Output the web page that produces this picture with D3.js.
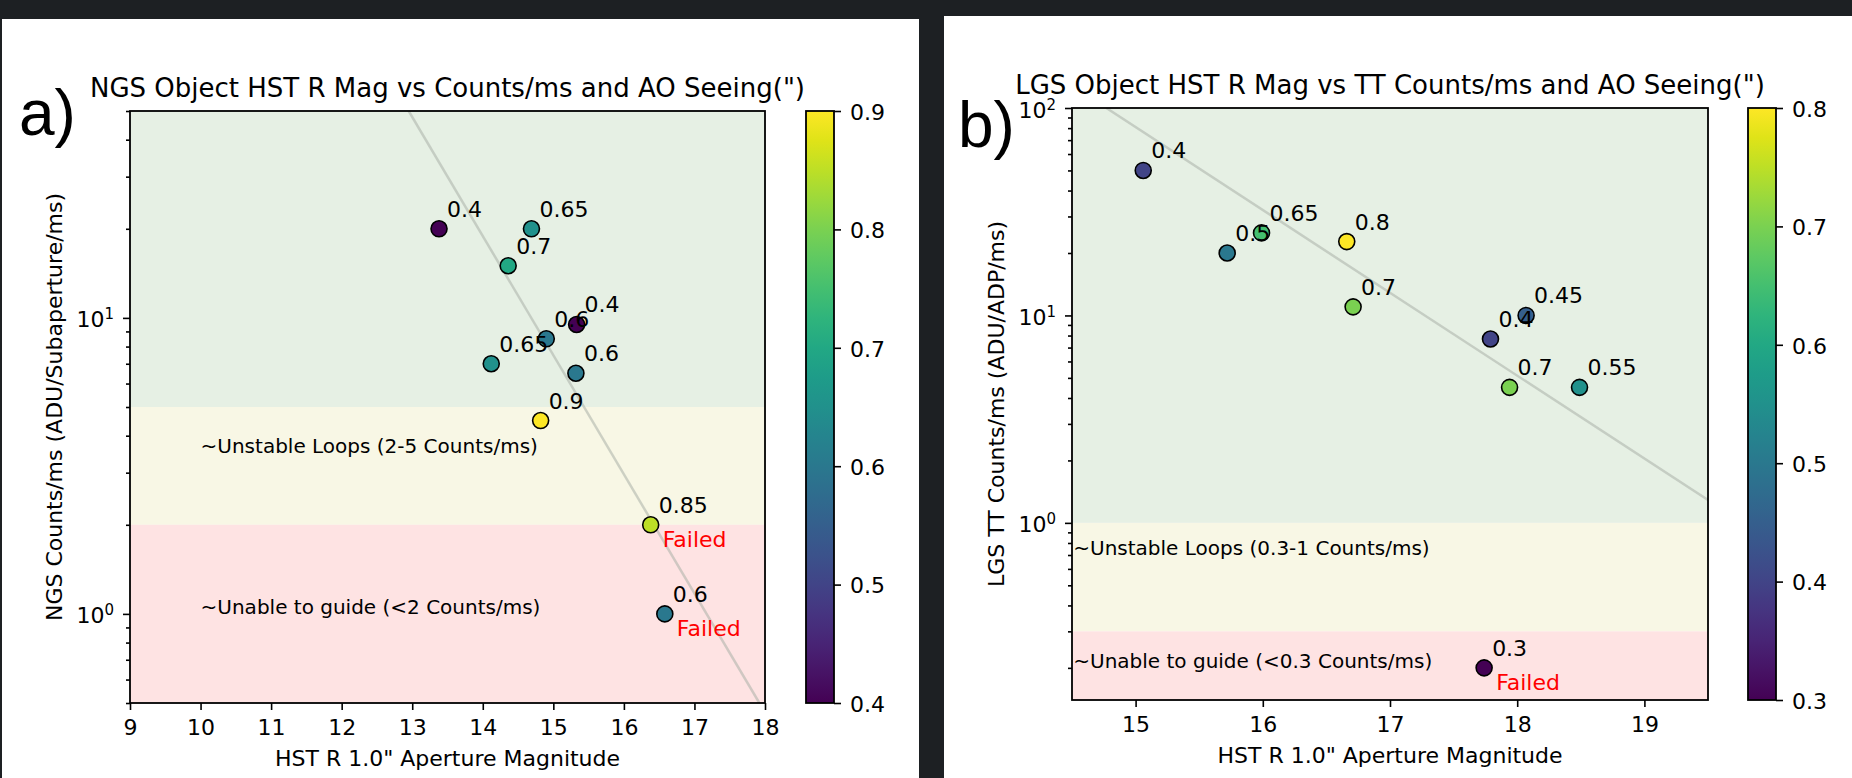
<!DOCTYPE html>
<html>
<head>
<meta charset="utf-8">
<script src="https://cdn.jsdelivr.net/npm/d3@7"></script>
<style>
  html, body { margin: 0; padding: 0; background: #1d2023; }
  svg { display: block; }
  text { font-family: "DejaVu Sans", sans-serif; fill: #000; }
</style>
</head>
<body>
<svg id="fig" width="1852" height="778"></svg>
<script>
// ---- panel a: NGS objects ----
const ngsMag    = [13.38, 14.69, 14.36, 15.33, 14.90, 14.12, 15.32, 14.82, 16.38, 16.58];
const ngsCounts = [20, 20, 15, 9.5, 8.5, 7.0, 6.5, 4.5, 2.0, 1.0];
const ngsSeeing = [0.4, 0.65, 0.7, 0.4, 0.6, 0.65, 0.6, 0.9, 0.85, 0.6];
const ngsFailed = [0, 0, 0, 0, 0, 0, 0, 0, 1, 1];
const ngsLimits = [2, 5];                      // unable < 2 < unstable < 5 < ok
const ngsTrend  = [[12.95, 50], [17.92, 0.5]]; // grey guide line
const ngsNotes  = ["~Unstable Loops (2-5 Counts/ms)", "~Unable to guide (<2 Counts/ms)"];
const ngsNoteAt = [[10, 3.5], [10, 1.0]];
const ngsXTicks = [9, 10, 11, 12, 13, 14, 15, 16, 17, 18];
const ngsCTicks = [0.4, 0.5, 0.6, 0.7, 0.8, 0.9];

// ---- panel b: LGS objects ----
const lgsMag    = [15.06, 15.99, 15.72, 16.66, 16.71, 18.07, 17.79, 17.94, 18.49, 17.74];
const lgsCounts = [50, 25, 20, 22.7, 11, 10, 7.7, 4.5, 4.5, 0.2];
const lgsSeeing = [0.4, 0.65, 0.5, 0.8, 0.7, 0.45, 0.4, 0.7, 0.55, 0.3];
const lgsFailed = [0, 0, 0, 0, 0, 0, 0, 0, 0, 1];
const lgsLimits = [0.3, 1];
const lgsTrend  = [[14.77, 100], [19.5, 1.29]];
const lgsNotes  = ["~Unstable Loops (0.3-1 Counts/ms)", "~Unable to guide (<0.3 Counts/ms)"];
const lgsNoteAt = [[14.51, 0.7], [14.51, 0.2]];
const lgsXTicks = [15, 16, 17, 18, 19];
const lgsCTicks = [0.3, 0.4, 0.5, 0.6, 0.7, 0.8];

const svg = d3.select("#fig");
svg.append("rect").attr("width", 1852).attr("height", 778).attr("fill", "#1d2023");

const panels = [
  {
    id: "a", letter: "a)", letterX: 19, letterY: 135,
    sheet: [2, 19, 917, 759],
    left: 130, right: 765, top: 111, bottom: 703, cbX: 806,
    title: "NGS Object HST R Mag vs Counts/ms and AO Seeing(\")",
    ylabel: "NGS Counts/ms (ADU/Subaperture/ms)",
    xDomain: [9, 18], yDomain: [0.5, 50], cDomain: [0.4, 0.9],
    mag: ngsMag, counts: ngsCounts, seeing: ngsSeeing, failed: ngsFailed,
    limits: ngsLimits, trend: ngsTrend, notes: ngsNotes, noteAt: ngsNoteAt,
    xTicks: ngsXTicks, yTicks: [1, 10], cTicks: ngsCTicks
  },
  {
    id: "b", letter: "b)", letterX: 958, letterY: 147,
    sheet: [944, 16, 908, 762],
    left: 1072, right: 1708, top: 108, bottom: 700, cbX: 1748,
    title: "LGS Object HST R Mag vs TT Counts/ms and AO Seeing(\")",
    ylabel: "LGS TT Counts/ms (ADU/ADP/ms)",
    xDomain: [14.5, 19.5], yDomain: [0.14, 100], cDomain: [0.3, 0.8],
    mag: lgsMag, counts: lgsCounts, seeing: lgsSeeing, failed: lgsFailed,
    limits: lgsLimits, trend: lgsTrend, notes: lgsNotes, noteAt: lgsNoteAt,
    xTicks: lgsXTicks, yTicks: [1, 10, 100], cTicks: lgsCTicks
  }
];

function styleAxis(sel, size) {
  sel.attr("font-family", null).attr("font-size", null);
  sel.select(".domain").remove();
  sel.selectAll(".tick line").attr("stroke", "#000").attr("stroke-width", 1.6);
  sel.selectAll(".tick text").style("font-size", size + "px");
}

function drawPanel(p) {
  const g = svg.append("g");
  g.append("rect")
    .attr("x", p.sheet[0]).attr("y", p.sheet[1])
    .attr("width", p.sheet[2]).attr("height", p.sheet[3])
    .attr("fill", "#fff");

  const x = d3.scaleLinear().domain(p.xDomain).range([p.left, p.right]);
  const y = d3.scaleLog().domain(p.yDomain).range([p.bottom, p.top]);
  const color = d3.scaleSequential(d3.interpolateViridis).domain(p.cDomain);
  const w = p.right - p.left, h = p.bottom - p.top;

  g.append("clipPath").attr("id", "clip-" + p.id)
    .append("rect").attr("x", p.left).attr("y", p.top).attr("width", w).attr("height", h);
  const plot = g.append("g").attr("clip-path", `url(#clip-${p.id})`);

  // quality bands
  const yd = y.domain();
  const bands = [
    { lo: p.limits[1], hi: yd[1], fill: "#e6f0e4" },
    { lo: p.limits[0], hi: p.limits[1], fill: "#f8f7e5" },
    { lo: yd[0], hi: p.limits[0], fill: "#fee3e3" }
  ];
  plot.selectAll(".band").data(bands).enter().append("rect")
    .attr("x", p.left).attr("width", w)
    .attr("y", d => y(d.hi)).attr("height", d => y(d.lo) - y(d.hi))
    .attr("fill", d => d.fill);

  // grey guide line
  plot.append("path")
    .datum(p.trend)
    .attr("d", d3.line().x(d => x(d[0])).y(d => y(d[1])))
    .attr("fill", "none").attr("stroke", "#a9b0a8").attr("stroke-opacity", 0.55)
    .attr("stroke-width", 2.5);

  // band notes
  g.selectAll(".note").data(p.notes).enter().append("text")
    .attr("x", (d, i) => x(p.noteAt[i][0]))
    .attr("y", (d, i) => y(p.noteAt[i][1]))
    .style("font-size", "20px")
    .text(d => d);

  const pts = p.mag.map((m, i) => ({ m, c: p.counts[i], s: p.seeing[i], f: p.failed[i] }));

  g.selectAll(".dot").data(pts).enter().append("circle")
    .attr("cx", d => x(d.m)).attr("cy", d => y(d.c)).attr("r", 8)
    .attr("fill", d => color(d.s)).attr("stroke", "#000").attr("stroke-width", 1.6);

  g.selectAll(".val").data(pts).enter().append("text")
    .attr("x", d => x(d.m) + 8).attr("y", d => y(d.c) - 12)
    .style("font-size", "22px")
    .text(d => String(d.s));

  g.selectAll(".fail").data(pts.filter(d => d.f)).enter().append("text")
    .attr("x", d => x(d.m) + 12).attr("y", d => y(d.c) + 22)
    .style("font-size", "22px").style("fill", "#ff0000")
    .text("Failed");

  // axes
  const xAxis = g.append("g").attr("transform", `translate(0,${p.bottom})`)
    .call(d3.axisBottom(x).tickValues(p.xTicks).tickSize(7).tickFormat(d3.format("d")));
  styleAxis(xAxis, 22);
  xAxis.selectAll(".tick text").attr("y", 32).attr("dy", null);

  const minors = [];
  for (let e = -2; e <= 2; e++) {
    for (let k = 2; k <= 9; k++) {
      const v = k * Math.pow(10, e);
      if (v >= yd[0] - 1e-9 && v <= yd[1]) minors.push(v);
    }
  }
  const yMinor = g.append("g").attr("transform", `translate(${p.left},0)`)
    .call(d3.axisLeft(y).tickValues(minors).tickSize(4).tickFormat(""));
  styleAxis(yMinor, 22);

  const yAxis = g.append("g").attr("transform", `translate(${p.left},0)`)
    .call(d3.axisLeft(y).tickValues(p.yTicks).tickSize(7).tickFormat(""));
  styleAxis(yAxis, 22);
  yAxis.selectAll(".tick text")
    .attr("x", -16).attr("dy", "0.41em").attr("text-anchor", "end")
    .each(function(d) {
      const t = d3.select(this);
      t.append("tspan").text("10");
      t.append("tspan").attr("dy", -8).style("font-size", "15px").text(Math.round(Math.log10(d)));
    });

  // frame
  g.append("rect").attr("x", p.left).attr("y", p.top).attr("width", w).attr("height", h)
    .attr("fill", "none").attr("stroke", "#000").attr("stroke-width", 1.8);

  g.append("text")
    .attr("x", (p.left + p.right) / 2).attr("y", p.top - 14)
    .attr("text-anchor", "middle").style("font-size", "26px")
    .text(p.title);

  g.append("text")
    .attr("x", (p.left + p.right) / 2).attr("y", p.bottom + 63)
    .attr("text-anchor", "middle").style("font-size", "22px")
    .text("HST R 1.0\" Aperture Magnitude");

  g.append("text")
    .attr("transform", `translate(${p.left - 68},${(p.top + p.bottom) / 2}) rotate(-90)`)
    .attr("text-anchor", "middle").style("font-size", "22px")
    .text(p.ylabel);

  g.append("text")
    .attr("x", p.letterX).attr("y", p.letterY)
    .style("font-family", "'Liberation Sans', Arial, sans-serif").style("font-size", "64px")
    .text(p.letter);

  // colorbar
  const cbW = 28;
  const grad = svg.append("defs").append("linearGradient")
    .attr("id", "grad-" + p.id).attr("x1", 0).attr("y1", 1).attr("x2", 0).attr("y2", 0);
  d3.range(0, 1.0001, 0.05).forEach(t => {
    grad.append("stop").attr("offset", t).attr("stop-color", d3.interpolateViridis(t));
  });
  g.append("rect").attr("x", p.cbX).attr("y", p.top).attr("width", cbW).attr("height", h)
    .attr("fill", `url(#grad-${p.id})`).attr("stroke", "#000").attr("stroke-width", 1.8);

  const c = d3.scaleLinear().domain(p.cDomain).range([p.bottom, p.top]);
  const cAxis = g.append("g").attr("transform", `translate(${p.cbX + cbW},0)`)
    .call(d3.axisRight(c).tickValues(p.cTicks).tickSize(7).tickPadding(9).tickFormat(d3.format(".1f")));
  styleAxis(cAxis, 22);
  cAxis.selectAll(".tick text").attr("dy", "0.38em");
}

panels.forEach(drawPanel);
</script>
</body>
</html>
